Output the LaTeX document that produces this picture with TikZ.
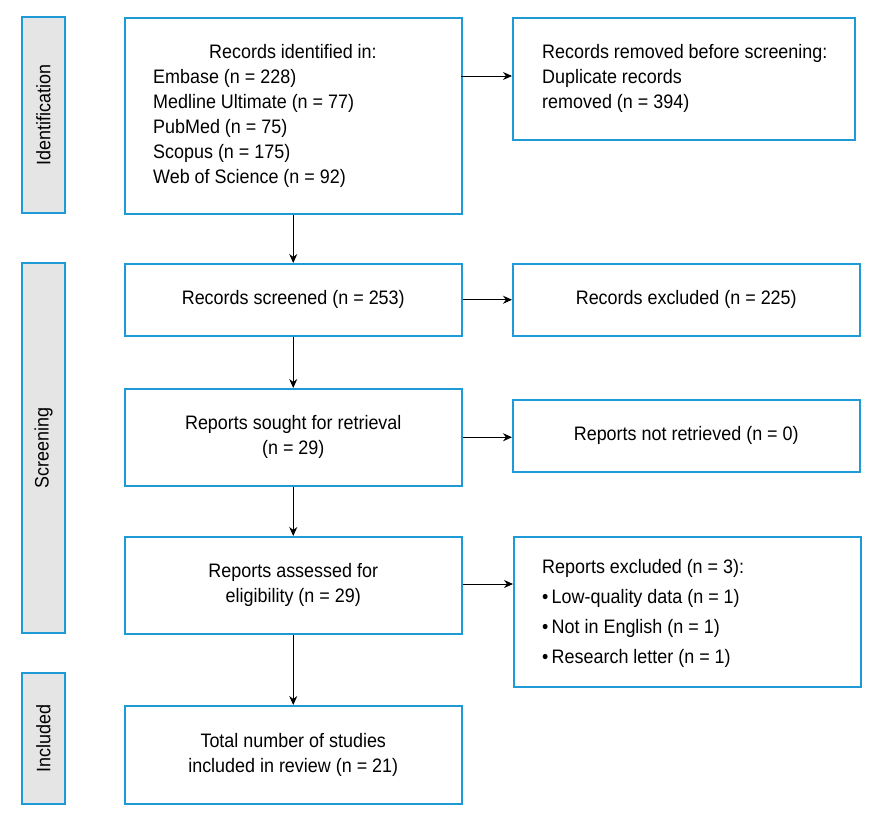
\documentclass[tikz,border=0pt]{standalone}
\usepackage{fontspec}
\setmainfont[FakeStretch=0.92]{Liberation Sans}
\usetikzlibrary{arrows.meta}
\definecolor{bl}{HTML}{1E9BD7}
\begin{document}
\begin{tikzpicture}[x=1pt,y=-1pt,
 bx/.style={draw=bl,line width=1.5pt},
 side/.style={draw=bl,fill=gray!20,line width=1.5pt},
 arr/.style={-{Stealth[length=9pt,width=8pt]},line width=0.9pt},
 txt/.style={font=\fontsize{19.5}{25}\selectfont,align=center,inner sep=0}]
\useasboundingbox (0,0) rectangle (874,827);
\draw[side] (22,17) rectangle (65,213) node[midway,rotate=90,txt](s1){Identification};
\draw[side] (22,263) rectangle (65,633) node[midway,rotate=90,txt](s2){Screening};
\draw[side] (22,673) rectangle (65,804) node[midway,rotate=90,txt](s3){Included};
\node[bx,minimum width=337pt,minimum height=196pt,anchor=north west] (A) at (124,17) {};
\node[txt,align=left,anchor=north west] at (153,44) {\hspace*{56pt}Records identified in:\\Embase (n = 228)\\Medline Ultimate (n = 77)\\PubMed (n = 75)\\Scopus (n = 175)\\Web of Science (n = 92)};
\node[bx,minimum width=337pt,minimum height=72pt,anchor=north west,txt] (B) at (124,263) {Records screened (n = 253)};
\node[bx,minimum width=337pt,minimum height=97pt,anchor=north west,txt] (C) at (124,388) {Reports sought for retrieval\\(n = 29)};
\node[bx,minimum width=337pt,minimum height=97pt,anchor=north west,txt] (D) at (124,536) {Reports assessed for\\eligibility (n = 29)};
\node[bx,minimum width=337pt,minimum height=98pt,anchor=north west,txt] (E) at (124,705) {Total number of studies\\included in review (n = 21)};
\node[bx,minimum width=342pt,minimum height=122pt,anchor=north west] (A2) at (512,17) {};
\node[txt,align=left,anchor=north west] at (542,44) {Records removed before screening:\\Duplicate records\\removed (n = 394)};
\node[bx,minimum width=347pt,minimum height=72pt,anchor=north west,txt] (B2) at (512,263) {Records excluded (n = 225)};
\node[bx,minimum width=347pt,minimum height=72pt,anchor=north west,txt] (C2) at (512,399) {Reports not retrieved (n = 0)};
\node[bx,minimum width=347pt,minimum height=150pt,anchor=north west] (D2) at (513,536) {};
\node[txt,align=left,anchor=north west] at (542,559) {Reports excluded (n = 3):\\[5pt]\textbullet\,Low-quality data (n = 1)\\[5pt]\textbullet\,Not in English (n = 1)\\[5pt]\textbullet\,Research letter (n = 1)};
\coordinate (a1) at (461,76); \coordinate (b1) at (512,76);
\draw[arr] (a1) -- (b1);
\draw[arr] (B.east) -- (B2.west);
\draw[arr] (C.east) -- (C.east -| C2.west);
\draw[arr] (D.east |- 0,584) -- (D2.west |- 0,584);
\draw[arr] (A.south) -- (B.north);
\draw[arr] (B.south) -- (C.north);
\draw[arr] (C.south) -- (D.north);
\draw[arr] (D.south) -- (E.north);
\end{tikzpicture}
\end{document}
